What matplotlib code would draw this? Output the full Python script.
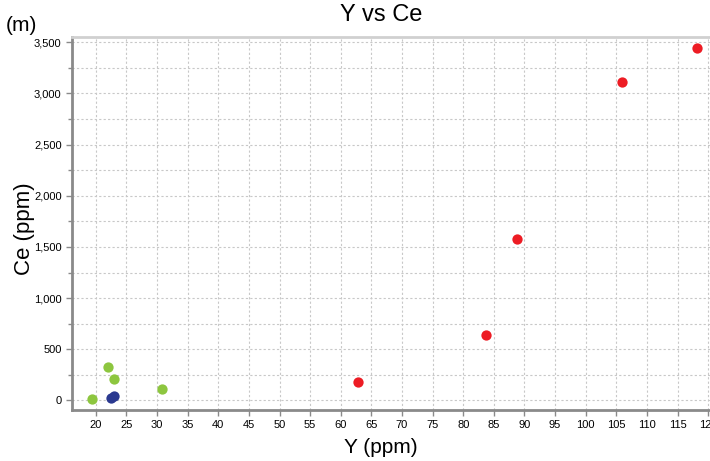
import matplotlib.pyplot as plt
from matplotlib.ticker import MultipleLocator, FuncFormatter

plt.rcParams['font.family'] = ['Liberation Sans', 'DejaVu Sans']

# data (Y ppm, Ce ppm)
green_y = [19.3, 22.0, 23.0, 30.8]
green_ce = [12, 325, 210, 115]
blue_y = [22.5, 22.9]
blue_ce = [28, 48]
red_y = [62.8, 83.7, 88.8, 105.9, 118.1]
red_ce = [184, 643, 1577, 3110, 3439]

fig = plt.figure(figsize=(7.1, 4.61), dpi=100)
ax = fig.add_axes([0.1014, 0.1106, 0.8986, 0.809])

ax.scatter(green_y, green_ce, s=55, color='#8dc63f', zorder=3, linewidths=0)
ax.scatter(blue_y, blue_ce, s=55, color='#2b3990', zorder=3, linewidths=0)
ax.scatter(red_y, red_ce, s=55, color='#ed1c24', zorder=3, linewidths=0)

ax.set_xlim(16.1, 120.3)
ax.set_ylim(-93, 3550)
ax.xaxis.set_major_locator(MultipleLocator(5))
ax.yaxis.set_major_locator(MultipleLocator(500))
ax.yaxis.set_minor_locator(MultipleLocator(250))
ax.yaxis.set_major_formatter(FuncFormatter(lambda v, p: f'{int(v):,}'))

# dashed grid on every tick, minor ones included
ax.grid(True, which='both', linestyle=(0, (2, 2)), color='#c8c8c8', linewidth=0.8)
ax.set_axisbelow(True)

for side in ['left', 'bottom']:
    ax.spines[side].set_color('#8a8a8a')
    ax.spines[side].set_linewidth(2)
ax.spines['top'].set_color('#d0d0d0')
ax.spines['top'].set_linewidth(2)
ax.spines['right'].set_visible(False)

ax.tick_params(which='both', direction='out', color='#8a8a8a', labelsize=8, width=1)
ax.tick_params(which='major', length=4)
ax.tick_params(which='minor', length=3)

fig.text(0.537, 0.967, 'Y vs Ce', ha='center', va='center', fontsize=17)
fig.text(0.008, 0.945, '(m)', ha='left', va='center', fontsize=15)
fig.text(0.034, 0.505, 'Ce (ppm)', ha='center', va='center', rotation=90, fontsize=16)
fig.text(0.537, 0.03, 'Y (ppm)', ha='center', va='center', fontsize=15)

plt.savefig('out.png', dpi=100)
